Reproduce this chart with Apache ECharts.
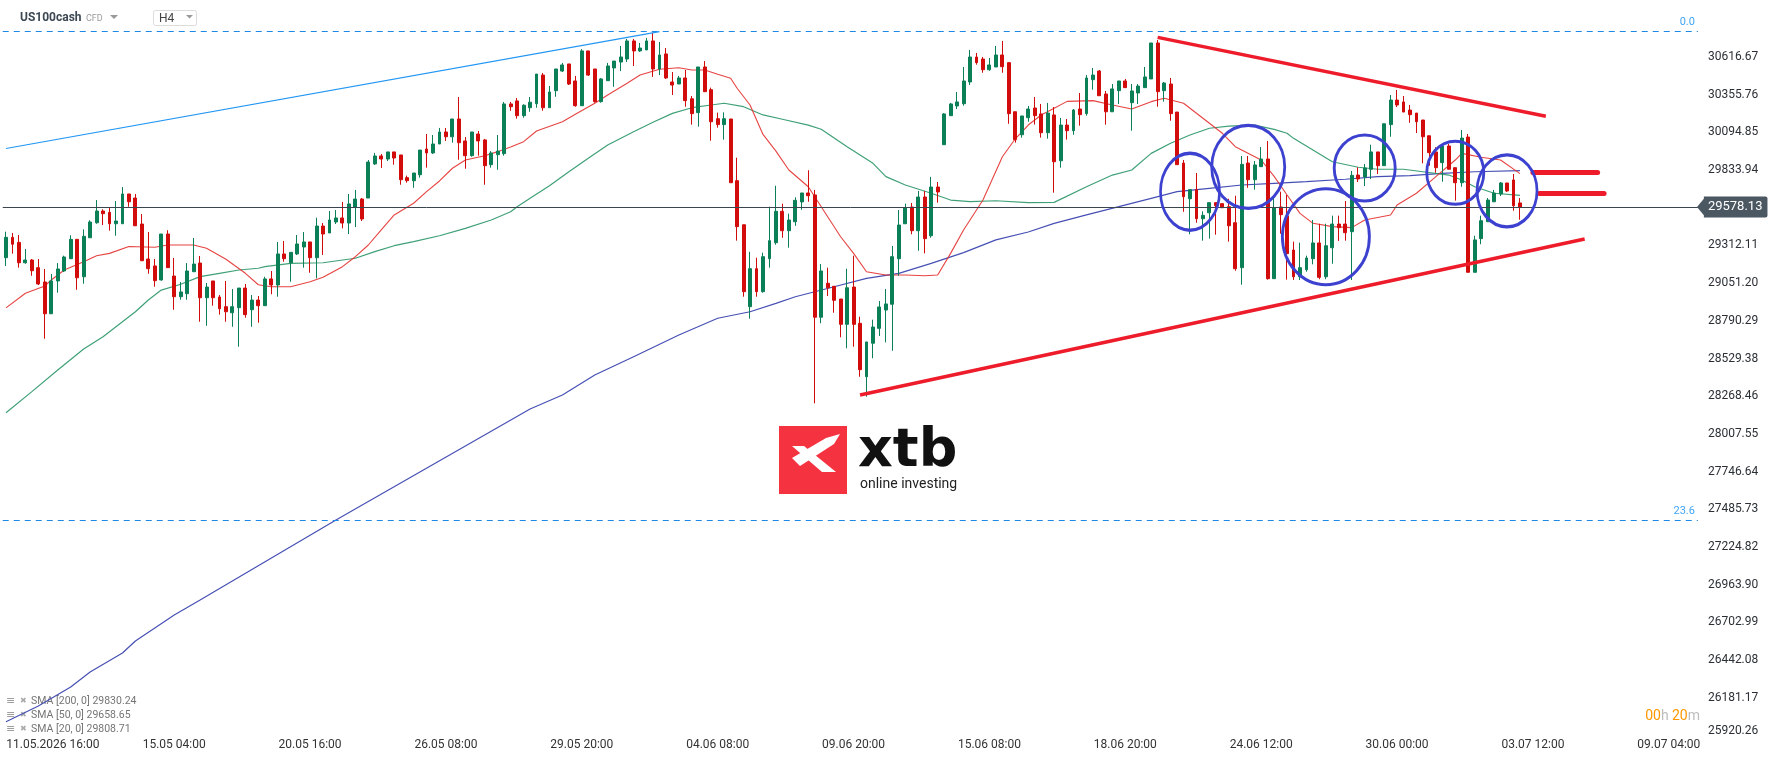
<!DOCTYPE html>
<html>
<head>
<meta charset="utf-8">
<title>US100cash H4</title>
<script src="https://cdn.jsdelivr.net/npm/echarts@6/dist/echarts.min.js"></script>
<style>
  html, body { margin: 0; padding: 0; background: #fff; }
  #chart { width: 1768px; height: 761px; }
</style>
</head>
<body>
<div id="chart"></div>
<script>
// number of category slots on the time axis (candles + empty space on the right)
const barCount = 262

const xTickLabels = ['11.05.2026 16:00', '15.05 04:00', '20.05 16:00', '26.05 08:00', '29.05 20:00', '04.06 08:00',
  '09.06 20:00', '15.06 08:00', '18.06 20:00', '24.06 12:00', '30.06 00:00', '03.07 12:00', '09.07 04:00']
const xTickIndex = [5, 26, 47, 68, 89, 110, 131, 152, 173, 194, 215, 236, 257]

const yTicks = [25920.26, 26181.17, 26442.08, 26702.99, 26963.90, 27224.82, 27485.73, 27746.64, 28007.55,
  28268.46, 28529.38, 28790.29, 29051.20, 29312.11, 29833.94, 30094.85, 30355.76, 30616.67]

const lastPrice = 29578.13

// [open, close, low, high]
const ohlc = [
  [29227, 29368, 29170, 29407], [29368, 29320, 29255, 29398], [29333, 29192, 29158, 29384], [29192, 29211, 29185, 29287],
  [29211, 29137, 29102, 29218], [29158, 29045, 29038, 29218], [29059, 28839, 28666, 29149], [28839, 29066, 28839, 29114],
  [29066, 29149, 28985, 29190], [29135, 29232, 29128, 29241], [29220, 29354, 29220, 29382], [29354, 29088, 29005, 29354],
  [29095, 29375, 29047, 29423], [29365, 29474, 29365, 29486], [29469, 29550, 29462, 29626], [29550, 29532, 29453, 29562],
  [29541, 29462, 29414, 29571], [29462, 29481, 29379, 29619], [29462, 29668, 29462, 29716], [29668, 29614, 29580, 29668],
  [29640, 29448, 29448, 29668], [29460, 29206, 29206, 29529], [29218, 29151, 29116, 29405], [29170, 29068, 29026, 29218],
  [29073, 29391, 29068, 29391], [29391, 29158, 29158, 29417], [29100, 28957, 28867, 29225], [28957, 28990, 28936, 29059],
  [28978, 29135, 28936, 29190], [29130, 29183, 29130, 29363], [29190, 28950, 28784, 29239], [28950, 29024, 28756, 29052],
  [29066, 28950, 28895, 29066], [28955, 28874, 28833, 28969], [28888, 28853, 28784, 29066], [28846, 28888, 28749, 29010],
  [28881, 29017, 28611, 29017], [29017, 28833, 28812, 29045], [28867, 28934, 28749, 28969], [28934, 28895, 28777, 28962],
  [28895, 29080, 28895, 29095], [29080, 29038, 28974, 29135], [29038, 29253, 28957, 29336], [29253, 29220, 29199, 29343],
  [29192, 29264, 29061, 29264], [29253, 29322, 29246, 29384], [29301, 29336, 29158, 29405], [29336, 29227, 29123, 29336],
  [29227, 29446, 29084, 29504], [29446, 29391, 29246, 29467], [29398, 29488, 29398, 29550], [29474, 29502, 29460, 29557],
  [29502, 29467, 29430, 29613], [29467, 29599, 29391, 29668], [29578, 29633, 29439, 29696], [29633, 29495, 29481, 29640],
  [29640, 29889, 29640, 29903], [29876, 29931, 29869, 29952], [29931, 29910, 29848, 29945], [29910, 29959, 29896, 29959],
  [29959, 29917, 29871, 29959], [29938, 29767, 29732, 29938], [29781, 29760, 29746, 29795], [29760, 29813, 29711, 29813],
  [29801, 29972, 29781, 29972], [29979, 29952, 29850, 30083], [29952, 30014, 29945, 30076], [30014, 30097, 30014, 30125],
  [30097, 30064, 30035, 30125], [30064, 30187, 30023, 30187], [30187, 30023, 29905, 30339], [30035, 29933, 29843, 30062],
  [29933, 30097, 29926, 30097], [30083, 30035, 29933, 30104], [30042, 29864, 29732, 30049], [29871, 29952, 29850, 29965],
  [29940, 29965, 29836, 30076], [29947, 30291, 29933, 30305], [30291, 30272, 30244, 30305], [30312, 30210, 30189, 30332],
  [30210, 30282, 30196, 30289], [30265, 30303, 30237, 30339], [30293, 30498, 30265, 30498], [30491, 30265, 30244, 30505],
  [30265, 30374, 30265, 30415], [30383, 30533, 30341, 30533], [30519, 30561, 30512, 30575], [30568, 30429, 30422, 30568],
  [30450, 30279, 30272, 30485], [30279, 30658, 30279, 30671], [30658, 30491, 30485, 30658], [30533, 30307, 30300, 30533],
  [30307, 30464, 30300, 30471], [30452, 30554, 30452, 30575], [30540, 30588, 30410, 30588], [30581, 30616, 30519, 30692],
  [30602, 30727, 30581, 30741], [30727, 30658, 30554, 30741], [30658, 30678, 30651, 30713], [30665, 30727, 30665, 30748],
  [30727, 30533, 30478, 30782], [30533, 30630, 30491, 30720], [30637, 30471, 30464, 30678], [30443, 30422, 30353, 30512],
  [30429, 30471, 30429, 30485], [30471, 30314, 30272, 30526], [30327, 30224, 30148, 30346], [30231, 30547, 30134, 30547],
  [30547, 30376, 30376, 30588], [30390, 30168, 30037, 30404], [30189, 30148, 30127, 30231], [30148, 30189, 30044, 30233],
  [30187, 29746, 29746, 30187], [29760, 29442, 29345, 29919], [29455, 28992, 28957, 29455], [28888, 29151, 28805, 29268],
  [29151, 28992, 28957, 29227], [28992, 29234, 28985, 29262], [29220, 29345, 29158, 29580], [29331, 29548, 29317, 29725],
  [29548, 29414, 29365, 29601], [29414, 29488, 29296, 29532], [29476, 29624, 29448, 29645], [29613, 29675, 29559, 29675],
  [29675, 29656, 29614, 29832], [29661, 28815, 28219, 29696], [28815, 29135, 28773, 29183], [29050, 29019, 28962, 29158],
  [29029, 28932, 28846, 29029], [28941, 28766, 28676, 28941], [28766, 29019, 28600, 29151], [29024, 28766, 28611, 29241],
  [28773, 28452, 28403, 28819], [28403, 28644, 28265, 28644], [28635, 28747, 28531, 28798], [28738, 28886, 28685, 28927],
  [28865, 28907, 28641, 29010], [28905, 29234, 28583, 29308], [29220, 29453, 29102, 29557], [29462, 29571, 29462, 29601],
  [29578, 29414, 29389, 29606], [29414, 29647, 29275, 29689], [29647, 29359, 29257, 29689], [29379, 29716, 29365, 29786],
  [29716, 29682, 29608, 29751], [30009, 30222, 30009, 30228], [30210, 30291, 30210, 30298], [30277, 30305, 30256, 30374],
  [30293, 30450, 30279, 30547], [30443, 30616, 30422, 30665], [30616, 30577, 30563, 30644], [30602, 30528, 30507, 30616],
  [30528, 30561, 30521, 30609], [30547, 30630, 30547, 30692], [30630, 30549, 30507, 30727], [30577, 30224, 30154, 30577],
  [30237, 30044, 30023, 30237], [30078, 30208, 30058, 30208], [30196, 30256, 30168, 30277], [30263, 30210, 30148, 30339],
  [30222, 30092, 30058, 30291], [30092, 30228, 30051, 30298], [30215, 29891, 29677, 30270], [29898, 30145, 29850, 30194],
  [30145, 30106, 30044, 30187], [30106, 30249, 30078, 30256], [30256, 30217, 30141, 30367], [30224, 30471, 30210, 30491],
  [30459, 30491, 30390, 30540], [30519, 30348, 30348, 30526], [30360, 30237, 30148, 30381], [30237, 30395, 30237, 30429],
  [30383, 30450, 30291, 30450], [30450, 30404, 30404, 30464], [30300, 30381, 30106, 30429], [30367, 30415, 30291, 30429],
  [30404, 30478, 30404, 30547], [30464, 30713, 30464, 30713], [30713, 30376, 30272, 30734], [30383, 30436, 30307, 30443],
  [30429, 30224, 30175, 30471], [30235, 29871, 29871, 30235], [29882, 29649, 29545, 29903], [29635, 29698, 29389, 29698],
  [29698, 29497, 29469, 29813], [29497, 29520, 29345, 29548], [29538, 29608, 29359, 29608], [29608, 29587, 29386, 29608],
  [29601, 29573, 29573, 29601], [29580, 29448, 29338, 29635], [29469, 29151, 29137, 29656], [29158, 29873, 29040, 29931],
  [29882, 29767, 29711, 29931], [29767, 29869, 29698, 29896], [29857, 29910, 29857, 29993], [29910, 29082, 29075, 30035],
  [29082, 29571, 29082, 29640], [29578, 29525, 29393, 29684], [29516, 29255, 29075, 29661], [29280, 29095, 29073, 29338],
  [29095, 29158, 29073, 29331], [29144, 29225, 29130, 29241], [29220, 29329, 29181, 29488], [29329, 29091, 29078, 29462],
  [29095, 29310, 29078, 29462], [29296, 29460, 29185, 29518], [29460, 29435, 29343, 29518], [29460, 29400, 29345, 29619],
  [29407, 29797, 29073, 29827], [29799, 29772, 29751, 29853], [29786, 29848, 29723, 29876], [29839, 29959, 29772, 30009],
  [29959, 29864, 29806, 29959], [29864, 30154, 29864, 30154], [30148, 30318, 30064, 30353], [30318, 30284, 30270, 30388],
  [30305, 30235, 30235, 30346], [30249, 30217, 30161, 30284], [30228, 30168, 30090, 30228], [30180, 30064, 29880, 30180],
  [30071, 29954, 29864, 30071], [29959, 29850, 29815, 29991], [29885, 30000, 29753, 30014], [30000, 29839, 29839, 30014],
  [29850, 29746, 29622, 29850], [29746, 30055, 29718, 30111], [30062, 29126, 29126, 30083], [29126, 29350, 29126, 29379],
  [29359, 29483, 29320, 29518], [29476, 29626, 29476, 29640], [29614, 29675, 29614, 29696], [29668, 29744, 29654, 29751],
  [29744, 29689, 29682, 29744], [29765, 29587, 29552, 29806], [29606, 29578.13, 29490, 29640]
]

// moving averages: [bar index, value]
const sma20 = [
  [0, 28880], [3, 28981], [6, 29031], [7, 29073], [9, 29142], [12, 29199], [14, 29241], [16, 29257], [19, 29305],
  [23, 29299], [25, 29315], [29, 29315], [31, 29292], [34, 29216], [37, 29119], [39, 29040], [41, 29026], [44, 29026],
  [47, 29061], [49, 29091], [52, 29165], [54, 29234], [56, 29315], [58, 29419], [60, 29523], [63, 29604], [65, 29684],
  [67, 29758], [69, 29846], [71, 29903], [74, 29933], [76, 29961], [78, 29993], [80, 30030], [82, 30104], [86, 30168],
  [88, 30220], [91, 30296], [93, 30353], [96, 30434], [98, 30491], [101, 30531], [104, 30542], [106, 30526], [108, 30526],
  [110, 30496], [112, 30469], [113, 30400], [115, 30284], [117, 30080], [119, 29965], [121, 29834], [124, 29718],
  [126, 29580], [129, 29372], [131, 29257], [133, 29130], [136, 29107], [139, 29107], [142, 29102], [144, 29107],
  [146, 29257], [148, 29419], [151, 29626], [154, 29926], [156, 30050], [158, 30145], [160, 30215], [162, 30261],
  [164, 30309], [168, 30314], [171, 30284], [174, 30256], [177, 30307], [179, 30330], [182, 30296], [185, 30192],
  [188, 30088], [190, 29995], [194, 29903], [196, 29790], [198, 29661], [200, 29534], [202, 29465], [205, 29442],
  [208, 29435], [210, 29488], [214, 29523], [215, 29592], [218, 29673], [221, 29788], [224, 29903], [225, 29949],
  [228, 29922], [231, 29903], [234, 29809]
]
const sma50 = [
  [0, 28154], [4, 28300], [8, 28450], [12, 28595], [15, 28680], [18, 28784], [20, 28853], [22, 28934], [24, 29003],
  [27, 29043], [30, 29096], [33, 29119], [36, 29142], [39, 29154], [40, 29165], [44, 29188], [49, 29192], [54, 29223],
  [57, 29269], [60, 29310], [63, 29338], [67, 29379], [71, 29430], [75, 29488], [78, 29545], [79, 29580], [81, 29638],
  [84, 29725], [87, 29822], [90, 29915], [93, 30007], [97, 30099], [100, 30164], [103, 30226], [106, 30265], [109, 30284],
  [111, 30296], [114, 30272], [117, 30215], [120, 30185], [124, 30145], [126, 30116], [130, 29995], [134, 29880],
  [136, 29788], [139, 29730], [143, 29673], [146, 29626], [149, 29615], [153, 29621], [158, 29608], [162, 29610],
  [167, 29718], [171, 29799], [174, 29834], [177, 29949], [180, 30019], [183, 30076], [186, 30123], [189, 30138],
  [193, 30145], [196, 30115], [198, 30088], [199, 30053], [202, 29972], [205, 29891], [209, 29853], [212, 29839],
  [216, 29839], [219, 29822], [223, 29799], [225, 29765], [227, 29718], [230, 29673], [234, 29659]
]
const sma200 = [
  [0, 26016], [5, 26124], [10, 26256], [13, 26360], [18, 26491], [20, 26574], [26, 26754], [30, 26858], [51, 27412],
  [81, 28180], [86, 28277], [91, 28415], [97, 28542], [104, 28692], [110, 28808], [115, 28853], [119, 28911],
  [122, 28957], [128, 29026], [133, 29084], [138, 29119], [143, 29188], [148, 29262], [153, 29350], [158, 29405],
  [162, 29465], [167, 29523], [172, 29580], [177, 29638], [181, 29684], [186, 29707], [191, 29730], [196, 29742],
  [201, 29753], [207, 29770], [212, 29788], [217, 29795], [222, 29811], [227, 29822], [234, 29830]
]
const smaLegend = ['SMA [200, 0] 29830.24', 'SMA [50, 0] 29658.65', 'SMA [20, 0] 29808.71']

// drawings on the chart
const fibLevels = [30796, 27412]
const fibNames = ['0.0', '23.6']
const blueTrend = [[0, 29983], [101, 30792]]
const redTrends = [[[178, 30752], [238, 30206]], [[132, 28277], [244, 29356]]]
const redFlats = [[[236, 29820], [246, 29820]], [[237, 29673], [247, 29673]]]
const circles = [[183, 29684], [192, 29855], [204, 29372], [210, 29848], [224, 29815], [232, 29690]]
const circleSizes = [[59, 77], [73, 83], [87, 96], [61, 66], [57, 63], [60, 72]]

const upColor = '#0b7f55'
const downColor = '#d20b0b'
const font = 'Roboto'

const categories = Array.from({ length: barCount }, (_, i) => String(i))

const chart = echarts.init(document.getElementById('chart'))

const trendLine = (pts, style) => [
  { coord: pts[0], lineStyle: style },
  { coord: pts[1] }
]

chart.setOption({
  animation: false,
  backgroundColor: '#fff',
  grid: {
    left: 2.765,
    right: 70.1,
    top: 0,
    bottom: 25.5,
    outerBoundsMode: 'none'
  },
  xAxis: {
    type: 'category',
    data: categories,
    axisLine: { show: false },
    axisTick: { show: false },
    splitLine: { show: false },
    axisLabel: {
      interval: (i) => xTickIndex.indexOf(i) >= 0,
      formatter: (v) => {
        const k = xTickIndex.indexOf(Number(v))
        if (k < 0) return ''
        return k === 0 ? '{first|' + xTickLabels[k] + '}' : xTickLabels[k]
      },
      color: '#333',
      fontSize: 12,
      fontFamily: font,
      margin: 3,
      rich: {
        first: { padding: [0, 0, 0, 29], color: '#333', fontSize: 12, fontFamily: font }
      }
    }
  },
  yAxis: {
    type: 'value',
    position: 'right',
    min: 25920.26,
    max: 31010.5,
    axisLine: { show: false },
    axisTick: { show: false },
    splitLine: { show: false },
    axisLabel: {
      customValues: yTicks,
      formatter: (v) => v === yTicks[0] ? '{low|' + v.toFixed(2) + '}' : v.toFixed(2),
      color: '#2b3036',
      fontSize: 12,
      fontFamily: font,
      margin: 10,
      rich: {
        low: { padding: [0, 0, 9, 0], color: '#2b3036', fontSize: 12, fontFamily: font }
      }
    }
  },
  series: [
    {
      name: 'US100cash',
      type: 'candlestick',
      data: ohlc,
      barWidth: 3.4,
      itemStyle: {
        color: upColor,
        color0: downColor,
        borderColor: upColor,
        borderColor0: downColor,
        borderWidth: 1
      },
      markLine: {
        silent: true,
        animation: false,
        symbol: ['none', 'none'],
        label: { show: false },
        data: [
          {
            yAxis: lastPrice,
            lineStyle: { color: '#3a454d', width: 1, type: 'solid' },
            label: {
              show: true,
              position: 'end',
              distance: 6,
              formatter: lastPrice.toFixed(2),
              color: '#fff',
              fontSize: 13,
              fontFamily: font,
              backgroundColor: '#4b5862',
              padding: [4, 5, 4, 4],
              borderRadius: [0, 2, 2, 0]
            }
          },
          ...fibLevels.map((v, i) => ({
            yAxis: v,
            lineStyle: { color: '#1e88e5', width: 1, type: [6, 5] },
            label: {
              show: true,
              position: 'insideEndTop',
              distance: [3, 3],
              formatter: fibNames[i],
              color: '#42a5f5',
              fontSize: 11,
              fontFamily: font
            }
          })),
          trendLine(blueTrend, { color: '#2196f3', width: 1.2, type: 'solid' }),
          ...redTrends.map(p => trendLine(p, { color: '#ee1c2a', width: 3.5, type: 'solid' })),
          ...redFlats.map(p => trendLine(p, { color: '#ee1c2a', width: 5, type: 'solid', cap: 'round' }))
        ]
      },
      markPoint: {
        silent: true,
        animation: false,
        label: { show: false },
        data: circles.map((c, i) => ({
          coord: c,
          symbol: 'circle',
          symbolSize: circleSizes[i],
          itemStyle: { color: 'rgba(0,0,0,0)', borderColor: '#3d41cf', borderWidth: 3 }
        }))
      }
    },
    {
      name: 'SMA 200',
      type: 'line',
      data: sma200,
      showSymbol: false,
      silent: true,
      lineStyle: { color: '#4650b4', width: 1.2 },
      z: 1
    },
    {
      name: 'SMA 50',
      type: 'line',
      data: sma50,
      showSymbol: false,
      silent: true,
      lineStyle: { color: '#2a9668', width: 1.2, opacity: 0.9 },
      z: 1
    },
    {
      name: 'SMA 20',
      type: 'line',
      data: sma20,
      showSymbol: false,
      silent: true,
      lineStyle: { color: '#e2302e', width: 1.1, opacity: 0.9 },
      z: 1
    }
  ],
  graphic: [
    // instrument header
    { type: 'text', x: 20, y: 18, style: { text: 'US100cash', font: 'bold 12px Roboto', fill: '#3c4853', verticalAlign: 'middle' } },
    { type: 'text', x: 86, y: 19, style: { text: 'CFD', font: '9px Roboto', fill: '#9a9a9a', verticalAlign: 'middle' } },
    { type: 'polygon', shape: { points: [[110, 15], [118, 15], [114, 19]] }, style: { fill: '#999' } },
    { type: 'rect', shape: { x: 153.5, y: 10.5, width: 43, height: 15, r: 2 }, style: { fill: '#fff', stroke: '#dcdcdc', lineWidth: 1 } },
    { type: 'text', x: 159, y: 18.5, style: { text: 'H4', font: '12px Roboto', fill: '#444', verticalAlign: 'middle' } },
    { type: 'polygon', shape: { points: [[186, 15], [193, 15], [189.5, 18.5]] }, style: { fill: '#999' } },
    // price tag arrow
    { type: 'polygon', shape: { points: [[1697, 207], [1704.5, 198], [1704.5, 216]] }, style: { fill: '#4b5862' } },
    // logo
    { type: 'rect', shape: { x: 779, y: 426, width: 68, height: 68 }, style: { fill: '#f5323f' } },
    { type: 'polygon', shape: { points: [[792, 458], [826, 438], [840, 434], [834, 444], [800, 466]] }, style: { fill: '#fff' } },
    { type: 'polygon', shape: { points: [[792, 446], [804, 446], [836, 472], [822, 472]] }, style: { fill: '#fff' } },
    { type: 'text', x: 858, y: 452, style: { text: 'xtb', font: 'bold 54px "DejaVu Sans"', fill: '#111', verticalAlign: 'middle' } },
    { type: 'text', x: 860, y: 484, style: { text: 'online investing', font: '14px Roboto', fill: '#222', verticalAlign: 'middle' } },
    // countdown
    {
      type: 'text', x: 1700, y: 716,
      style: {
        text: '{o|00}{g|h} {o|20}{g|m}',
        align: 'right',
        verticalAlign: 'middle',
        rich: {
          o: { fill: '#ff9800', font: '14px Roboto' },
          g: { fill: '#bdbdbd', font: '14px Roboto' }
        }
      }
    },
    // indicator legend
    ...smaLegend.map((t, i) => ({
      type: 'group',
      children: [
        { type: 'text', x: 6, y: 701 + i * 14, style: { text: '≡', font: '11px "DejaVu Sans"', fill: '#9e9e9e', verticalAlign: 'middle' } },
        { type: 'text', x: 20, y: 701 + i * 14, style: { text: '✖', font: '8px "DejaVu Sans"', fill: '#aaa', verticalAlign: 'middle' } },
        { type: 'text', x: 31, y: 701 + i * 14, style: { text: t, font: '10.5px Roboto', fill: '#757575', verticalAlign: 'middle' } }
      ]
    }))
  ]
})
</script>
</body>
</html>
